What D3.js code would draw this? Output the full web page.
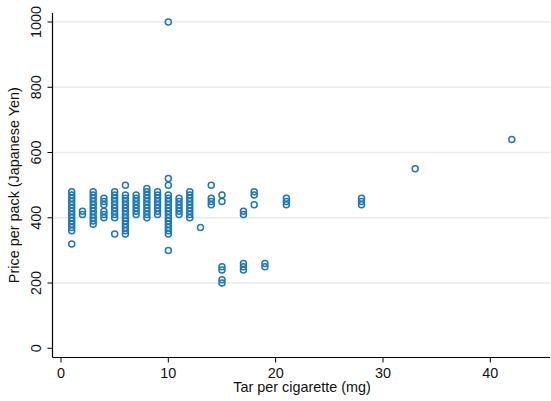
<script src="https://d3js.org/d3.v7.min.js"></script>
<style>
  body { margin: 0; background: #fff; }
  text { font-family: "Liberation Sans", Arial, sans-serif; fill: #111; }
</style>
<svg width="551" height="401"></svg>
<script>
  // tar (mg) levels and the pack prices seen at each level
  const tarLevels = [1, 2, 3, 4, 5, 6, 7, 8, 9, 10, 11, 12, 13, 14, 15, 17, 18, 19, 21, 28, 33, 42];
  const pricesAtTar = [
    [480, 470, 460, 450, 440, 430, 420, 410, 400, 390, 380, 370, 360, 320],
    [420, 410],
    [480, 470, 460, 450, 440, 430, 420, 410, 400, 390, 380],
    [460, 450, 440, 420, 410, 400],
    [480, 470, 460, 450, 440, 430, 420, 410, 400, 350],
    [500, 470, 460, 450, 440, 430, 420, 410, 400, 390, 380, 370, 360, 350],
    [470, 460, 450, 440, 430, 420, 410],
    [490, 480, 470, 460, 450, 440, 430, 420, 410, 400],
    [480, 470, 460, 450, 440, 430, 420, 410],
    [1000, 520, 500, 470, 460, 450, 440, 430, 420, 410, 400, 390, 380, 370, 360, 350, 300],
    [460, 450, 440, 430, 420, 410],
    [480, 470, 460, 450, 440, 430, 420, 410, 400],
    [370],
    [500, 460, 450, 440],
    [470, 450, 250, 240, 210, 200],
    [420, 410, 260, 250, 240],
    [480, 470, 440],
    [260, 250],
    [460, 450, 440],
    [460, 450, 440],
    [550],
    [640]
  ];
  const xTicks = [0, 10, 20, 30, 40];
  const yTicks = [0, 200, 400, 600, 800, 1000];

  const points = [];
  tarLevels.forEach((t, i) => pricesAtTar[i].forEach(p => points.push({ tar: t, price: p })));

  const svg = d3.select('svg');
  const plotLeft = 52.5, plotRight = 550, plotTop = 13, plotBottom = 357.5;
  const fontSize = '14.4px';

  const x = d3.scaleLinear().domain([0, 40]).range([61, 490.3]);
  const y = d3.scaleLinear().domain([0, 1000]).range([348.3, 22]);

  // grid lines
  svg.append('g')
    .selectAll('line')
    .data(yTicks.filter(d => d > 0))
    .join('line')
    .attr('x1', plotLeft)
    .attr('x2', plotRight)
    .attr('y1', d => y(d))
    .attr('y2', d => y(d))
    .attr('stroke', '#eaeaea')
    .attr('stroke-width', 1.4);

  // points
  svg.append('g')
    .selectAll('circle')
    .data(points)
    .join('circle')
    .attr('cx', d => x(d.tar))
    .attr('cy', d => y(d.price))
    .attr('r', 3)
    .attr('fill', 'none')
    .attr('stroke', '#1f77b4')
    .attr('stroke-width', 1.5);

  // x axis
  const xAxis = svg.append('g').attr('transform', `translate(0,${plotBottom})`);
  xAxis.append('line')
    .attr('x1', plotLeft).attr('x2', plotRight)
    .attr('stroke', '#000').attr('stroke-width', 1.2);
  xAxis.selectAll('.tk')
    .data(xTicks)
    .join('line')
    .attr('x1', d => x(d)).attr('x2', d => x(d))
    .attr('y1', 0).attr('y2', 5)
    .attr('stroke', '#000');
  xAxis.selectAll('text')
    .data(xTicks)
    .join('text')
    .attr('x', d => x(d))
    .attr('y', 20)
    .attr('text-anchor', 'middle')
    .style('font-size', fontSize)
    .text(d => d);

  svg.append('text')
    .attr('x', 302)
    .attr('y', 392)
    .attr('text-anchor', 'middle')
    .style('font-size', fontSize)
    .text('Tar per cigarette (mg)');

  // y axis
  const yAxis = svg.append('g').attr('transform', `translate(${plotLeft},0)`);
  yAxis.append('line')
    .attr('y1', plotTop).attr('y2', plotBottom)
    .attr('stroke', '#000').attr('stroke-width', 1.2);
  yAxis.selectAll('.tk')
    .data(yTicks)
    .join('line')
    .attr('x1', -5).attr('x2', 0)
    .attr('y1', d => y(d)).attr('y2', d => y(d))
    .attr('stroke', '#000');
  yAxis.selectAll('text')
    .data(yTicks)
    .join('text')
    .attr('transform', d => `translate(-12,${y(d)}) rotate(-90)`)
    .attr('text-anchor', 'middle')
    .style('font-size', fontSize)
    .text(d => d);

  svg.append('text')
    .attr('transform', `translate(19,${y(500)}) rotate(-90)`)
    .attr('text-anchor', 'middle')
    .style('font-size', fontSize)
    .text('Price per pack (Japanese Yen)');
</script>
